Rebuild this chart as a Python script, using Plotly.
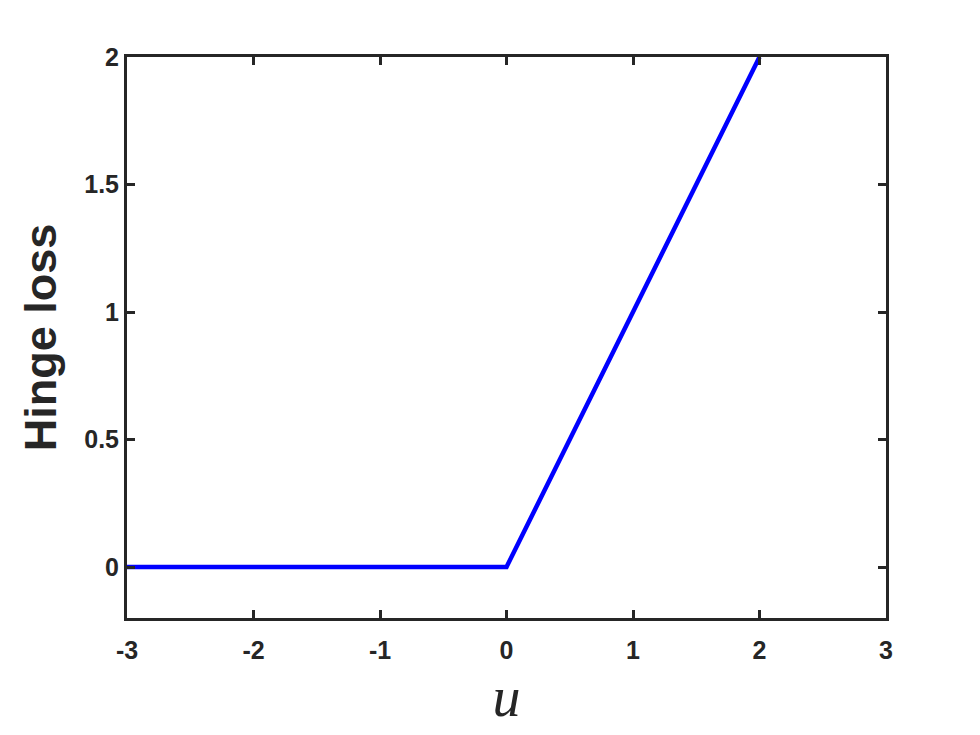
import plotly.graph_objects as go

u_values = [-3, 0, 2]
hinge_values = [0, 0, 2]
x_ticks = [-3, -2, -1, 0, 1, 2, 3]
y_ticks = [0, 0.5, 1, 1.5, 2]
y_tick_labels = ["0", "0.5", "1", "1.5", "2"]

fig = go.Figure()
fig.add_trace(go.Scatter(x=u_values, y=hinge_values, mode="lines",
                         line=dict(color="#0000FF", width=4.5), showlegend=False))

axis_common = dict(showline=True, linecolor="#262626", linewidth=3, mirror="ticks",
                   ticks="inside", ticklen=8, tickwidth=3, tickcolor="#262626",
                   showgrid=False, zeroline=False,
                   tickfont=dict(family="Liberation Sans, Arial", size=25, color="#262626", weight="bold"))

# page body adds an 8px offset; margins compensate so the axes box lands at 127..886 x 57..618
fig.update_layout(
    width=980, height=735,
    paper_bgcolor="white", plot_bgcolor="white",
    margin=dict(l=119, r=102, t=49, b=125),
    xaxis=dict(range=[-3, 3], tickvals=x_ticks, ticktext=[str(v) for v in x_ticks],
               ticklabelstandoff=8,
               title=dict(text="<i>u</i>", font=dict(family="Liberation Serif, Times New Roman", size=56, color="#262626"), standoff=14),
               **axis_common),
    yaxis=dict(range=[-0.2, 2], tickvals=y_ticks, ticktext=y_tick_labels,
               title=dict(text="<b>Hinge loss</b>", font=dict(family="Liberation Sans, Arial", size=45, color="#262626"), standoff=14),
               **axis_common),
)
fig.write_html("out.html")
